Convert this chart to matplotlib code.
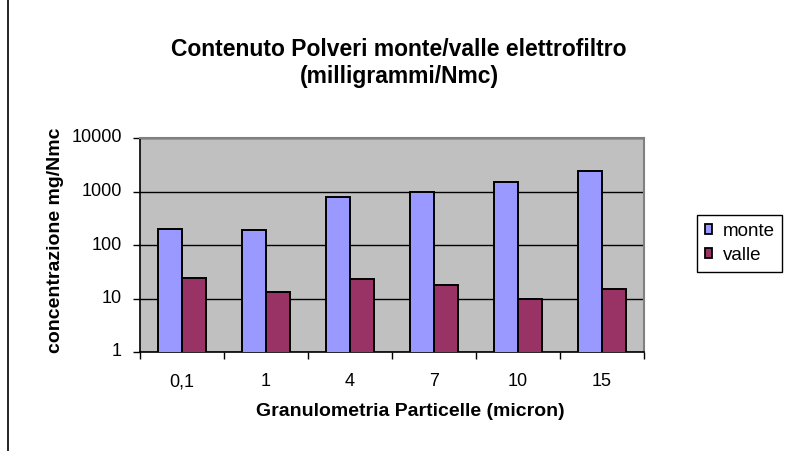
import numpy as np
import matplotlib.pyplot as plt
from matplotlib.patches import Rectangle

plt.rcParams['font.family'] = ['Liberation Sans', 'DejaVu Sans']

categories = ["0,1", "1", "4", "7", "10", "15"]
monte = [200, 190, 800, 1000, 1500, 2400]
valle = [24, 13, 23, 18, 10, 15]

W, H = 791, 451


def px(x, y):
    # pixel position (from top left) -> figure fraction
    return x / W, 1 - y / H


fig = plt.figure(figsize=(W / 100, H / 100), dpi=100)
fig.patches.append(Rectangle(px(8, 500), 1.2, 1 - 8 / H + 0.2, transform=fig.transFigure,
                             fill=False, edgecolor="black", linewidth=1.2))

ax = fig.add_axes([140 / W, 99 / H, 504 / W, 214 / H])
ax.set_facecolor("#C0C0C0")

x = np.arange(len(categories))
bw = 0.2857
ax.bar(x - bw / 2, monte, bw, color="#9999FF", edgecolor="black", linewidth=1.4, label="monte", zorder=3)
ax.bar(x + bw / 2, valle, bw, color="#993366", edgecolor="black", linewidth=1.4, label="valle", zorder=3)

ax.set_yscale("log")
ax.set_ylim(1, 10000)
ax.set_xlim(-0.5, len(categories) - 0.5)
ax.set_yticks([1, 10, 100, 1000, 10000])
ax.set_yticklabels(["1", "10", "100", "1000", "10000"])
ax.minorticks_off()
ax.yaxis.grid(True, color="black", linewidth=1)
ax.set_axisbelow(True)

ax.set_xticks(x)
ax.set_xticklabels(categories)
ax.set_xticks(np.arange(len(categories) + 1) - 0.5, minor=True)
ax.tick_params(axis="x", which="major", length=0, pad=21.6, labelsize=13)
ax.tick_params(axis="x", which="minor", length=5, width=1, direction="out")
ax.tick_params(axis="y", length=5, width=1, direction="out", labelsize=13, pad=8)
plt.setp(ax.get_xticklabels(), va="center")
plt.setp(ax.get_yticklabels(), va="center")

for side in ["top", "right"]:
    ax.spines[side].set_color("#808080")
    ax.spines[side].set_linewidth(1.5)
for side in ["left", "bottom"]:
    ax.spines[side].set_color("black")
    ax.spines[side].set_linewidth(1.2)

fig.text(*px(399, 50), "Contenuto Polveri monte/valle elettrofiltro",
         fontsize=16.5, fontweight="bold", ha="center", va="center")
fig.text(*px(399, 77), "(milligrammi/Nmc)",
         fontsize=16.5, fontweight="bold", ha="center", va="center")
fig.text(*px(410, 411), "Granulometria Particelle (micron)",
         fontsize=14, fontweight="bold", ha="center", va="center")
fig.text(*px(56, 240), "concentrazione mg/Nmc", rotation=90,
         fontsize=14, fontweight="bold", ha="center", va="center")

leg = fig.legend(loc="upper left", bbox_to_anchor=px(697, 215), fontsize=13.5,
                 frameon=True, fancybox=False, edgecolor="black", framealpha=1,
                 handlelength=0.42, handleheight=0.42, handletextpad=0.55, borderpad=0.4,
                 labelspacing=0.4, borderaxespad=0)
leg.get_frame().set_linewidth(1)
for h in leg.legend_handles:
    h.set_linewidth(1.3)

fig.savefig("out.png", dpi=100)
